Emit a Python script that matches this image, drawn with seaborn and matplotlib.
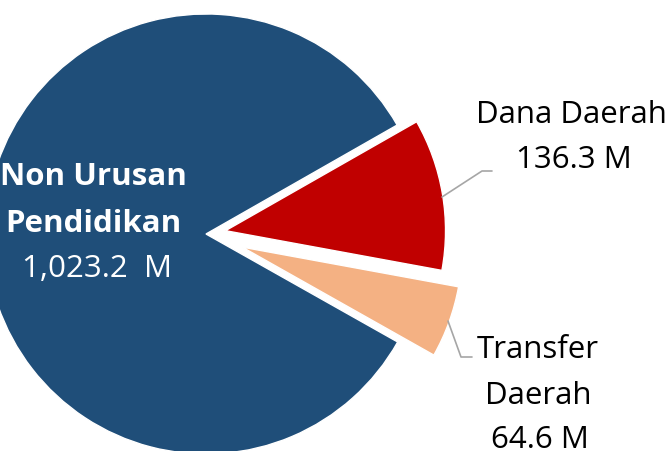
import matplotlib
matplotlib.use('Agg')
import matplotlib.pyplot as plt
import seaborn as sns

# Data (in miliar rupiah, "M")
categories = ['Non Urusan Pendidikan', 'Dana Daerah', 'Transfer Daerah']
values = [1023.2, 136.3, 64.6]
value_labels = ['1,023.2  M', '136.3 M', '64.6 M']
colors = ['#1F4E79', '#C00000', '#F4B183']
explode = [0, 0.09, 0.175]

sns.set_theme(style='white')
plt.rcParams['font.family'] = ['Open Sans', 'DejaVu Sans']

fig = plt.figure(figsize=(6.66, 4.52), dpi=100)
ax = fig.add_axes([0, 0, 1, 1])

ax.pie(values, colors=colors, explode=explode, startangle=-29.4,
       counterclock=False, radius=1,
       wedgeprops=dict(edgecolor='white', linewidth=1))

# the pie is larger than the canvas: crop it like the original
R = 220.0
cx, cy = 206, 235


def px(x, y):
    return (x - cx) / R, (cy - y) / R


ax.set_xlim(px(0, 0)[0], px(666, 0)[0])
ax.set_ylim(px(0, 452)[1], px(0, 0)[1])
ax.set_aspect('auto')
ax.axis('off')

fs = 22.5

# big slice label (inside)
x, y = px(93, 185)
ax.text(x, y, 'Non Urusan', color='white', fontsize=fs, fontweight='bold',
        ha='center', va='baseline')
x, y = px(93, 232)
ax.text(x, y, 'Pendidikan', color='white', fontsize=fs, fontweight='bold',
        ha='center', va='baseline')
x, y = px(97, 277)
ax.text(x, y, value_labels[0], color='white', fontsize=fs,
        ha='center', va='baseline')

# Dana Daerah
x, y = px(571, 123)
ax.text(x, y, 'Dana Daerah', color='black', fontsize=fs, ha='center', va='baseline')
x, y = px(574, 168)
ax.text(x, y, value_labels[1], color='black', fontsize=fs, ha='center', va='baseline')
pts = [px(442, 198), px(482, 172), px(492, 172)]
ax.plot([p[0] for p in pts], [p[1] for p in pts], color='#A6A6A6', lw=1.2)

# Transfer Daerah
x, y = px(538, 358)
ax.text(x, y, 'Transfer', color='black', fontsize=fs, ha='center', va='baseline')
x, y = px(538, 404)
ax.text(x, y, 'Daerah', color='black', fontsize=fs, ha='center', va='baseline')
x, y = px(540, 448)
ax.text(x, y, value_labels[2], color='black', fontsize=fs, ha='center', va='baseline')
pts = [px(448, 322), px(461, 358), px(472, 358)]
ax.plot([p[0] for p in pts], [p[1] for p in pts], color='#A6A6A6', lw=1.2)

fig.savefig('out.png', dpi=100, facecolor='white')
